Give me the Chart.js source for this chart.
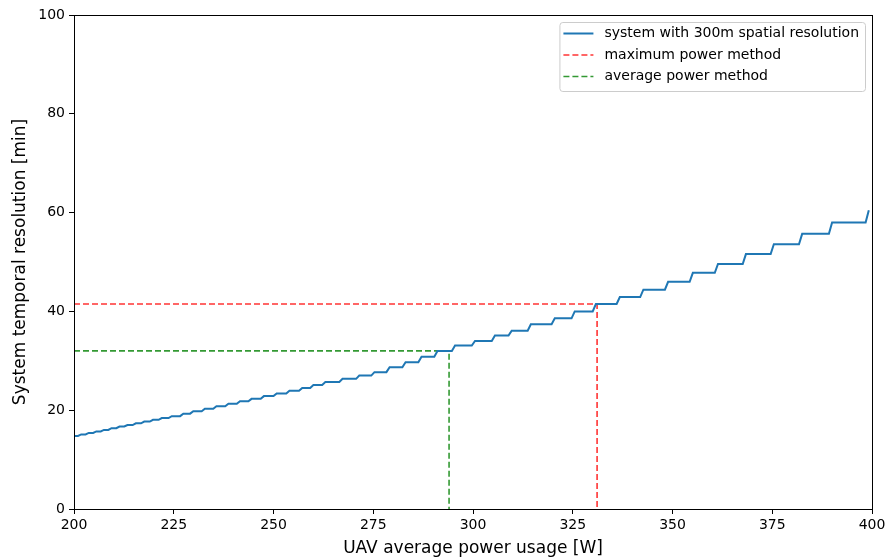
<!DOCTYPE html>
<html>
<head>
<meta charset="utf-8">
<script src="https://cdn.jsdelivr.net/npm/chart.js@4"></script>
<style>
  html, body { margin: 0; padding: 0; background: #fff; }
  #wrap { width: 885px; height: 560px; position: relative; }
</style>
</head>
<body>
<div id="wrap"><canvas id="chart"></canvas></div>
<script>
// Step levels of the temporal resolution, read per power value (W -> min)
const stepPower = [200, 201.8, 203.7, 205.6, 207.5, 209.4, 211.4, 213.4, 215.5, 217.6,
  219.8, 222.0, 224.5, 227.4, 229.9, 232.8, 235.7, 238.7, 241.6, 244.5,
  247.6, 250.8, 254.0, 257.2, 260.0, 263.0, 267.3, 271.5, 275.3, 279.1,
  283.1, 287.1, 291.1, 295.5, 300.5, 305.5, 309.7, 314.5, 320.5, 325.5,
  330.8, 336.8, 342.7, 348.9, 355.1, 361.4, 368.4, 375.4, 382.5, 390.0, 399.2];
const stepRes = [14.8, 15.1, 15.4, 15.7, 16.0, 16.35, 16.7, 17.0, 17.35, 17.7,
  18.05, 18.4, 18.8, 19.3, 19.8, 20.3, 20.8, 21.3, 21.8, 22.3,
  22.85, 23.4, 23.95, 24.5, 25.1, 25.7, 26.35, 27.0, 27.7, 28.7,
  29.7, 30.8, 32.0, 33.1, 34.0, 35.1, 36.1, 37.4, 38.6, 40.0,
  41.5, 42.9, 44.4, 46.0, 47.8, 49.6, 51.6, 53.6, 55.7, 58.0, 60.5];
const RISE = 0.8; // width of each riser between two levels (W)

// operating points of the two sizing methods
const methodNames = ['maximum power method', 'average power method'];
const methodPower = [331.1, 294.0];
const methodRes = [41.5, 32.0];
const methodColors = ['rgba(255,0,0,0.8)', 'rgba(0,128,0,0.8)'];

const xTicks = [200, 225, 250, 275, 300, 325, 350, 375, 400];
const yTicks = [0, 20, 40, 60, 80, 100];

// flat part of every step, then a short riser up to the next level
const systemPts = [];
for (let i = 0; i < stepPower.length; i++) {
  systemPts.push({ x: stepPower[i], y: stepRes[i] });
  if (i < stepPower.length - 1) systemPts.push({ x: stepPower[i + 1] - RISE, y: stepRes[i] });
}

const methodSets = methodNames.map((name, i) => ({
  label: name,
  data: [
    { x: xTicks[0], y: methodRes[i] },
    { x: methodPower[i], y: methodRes[i] },
    { x: methodPower[i], y: yTicks[0] }
  ],
  borderColor: methodColors[i],
  borderWidth: 1.6,
  borderDash: [6, 3],
  pointRadius: 0,
  fill: false
}));

Chart.defaults.font.family = '"DejaVu Sans", sans-serif';
Chart.defaults.color = '#000';

// box around the plot like matplotlib spines
const frame = {
  id: 'frame',
  afterDraw(chart) {
    const { ctx, chartArea: a } = chart;
    ctx.save();
    ctx.strokeStyle = '#000';
    ctx.lineWidth = 1;
    ctx.strokeRect(Math.round(a.left) + 0.5, Math.round(a.top) + 0.5,
      Math.round(a.right - a.left), Math.round(a.bottom - a.top));
    ctx.restore();
  }
};

// legend in the upper right corner of the plot
const legendBox = {
  id: 'legendBox',
  afterDatasetsDraw(chart) {
    const { ctx, chartArea: a } = chart;
    const sets = chart.data.datasets;
    ctx.save();
    ctx.font = '14px "DejaVu Sans"';
    const tw = Math.max(...sets.map(d => ctx.measureText(d.label).width));
    const w = 4 + 30 + 11 + tw + 6;
    const h = 69;
    const x0 = a.right - 7 - w;
    const y0 = a.top + 7;
    ctx.beginPath();
    if (ctx.roundRect) ctx.roundRect(x0 + 0.5, y0 + 0.5, w, h, 3);
    else ctx.rect(x0 + 0.5, y0 + 0.5, w, h);
    ctx.fillStyle = 'rgba(255,255,255,0.8)';
    ctx.fill();
    ctx.strokeStyle = '#cccccc';
    ctx.lineWidth = 1;
    ctx.stroke();
    sets.forEach((d, i) => {
      const yy = y0 + 11.5 + i * 21.5;
      ctx.beginPath();
      ctx.setLineDash(d.borderDash || []);
      ctx.strokeStyle = d.borderColor;
      ctx.lineWidth = d.borderWidth;
      ctx.moveTo(x0 + 4, yy);
      ctx.lineTo(x0 + 34, yy);
      ctx.stroke();
      ctx.setLineDash([]);
      ctx.fillStyle = '#000';
      ctx.textBaseline = 'middle';
      ctx.fillText(d.label, x0 + 45, yy);
    });
    ctx.restore();
  }
};

new Chart(document.getElementById('chart'), {
  type: 'line',
  data: {
    datasets: [
      {
        label: 'system with 300m spatial resolution',
        data: systemPts,
        borderColor: '#1f77b4',
        borderWidth: 2,
        pointRadius: 0,
        fill: false,
        tension: 0
      },
      ...methodSets
    ]
  },
  options: {
    responsive: true,
    maintainAspectRatio: false,
    animation: false,
    layout: { padding: { left: 10, right: 13, top: 15, bottom: 0 } },
    plugins: { legend: { display: false }, tooltip: { enabled: false } },
    scales: {
      x: {
        type: 'linear',
        min: xTicks[0],
        max: xTicks[xTicks.length - 1],
        afterBuildTicks: s => { s.ticks = xTicks.map(v => ({ value: v })); },
        afterFit: s => { s.height = 51; s.paddingLeft = 0; s.paddingRight = 0; },
        ticks: { font: { size: 14 }, padding: 3, maxRotation: 0, color: '#000' },
        grid: { drawOnChartArea: false, tickLength: 5, color: '#000', tickColor: '#000' },
        border: { display: true, color: '#000' },
        title: { display: true, text: 'UAV average power usage [W]', font: { size: 17 }, padding: { top: 2, bottom: 1 } }
      },
      y: {
        min: yTicks[0],
        max: yTicks[yTicks.length - 1],
        afterBuildTicks: s => { s.ticks = yTicks.map(v => ({ value: v })); },
        afterFit: s => { s.width = 64; },
        ticks: { font: { size: 14 }, padding: 4, color: '#000' },
        grid: { drawOnChartArea: false, tickLength: 5, color: '#000', tickColor: '#000' },
        border: { display: true, color: '#000' },
        title: { display: true, text: 'System temporal resolution [min]', font: { size: 17 }, padding: { top: 0, bottom: 2 } }
      }
    }
  },
  plugins: [frame, legendBox]
});
</script>
</body>
</html>
